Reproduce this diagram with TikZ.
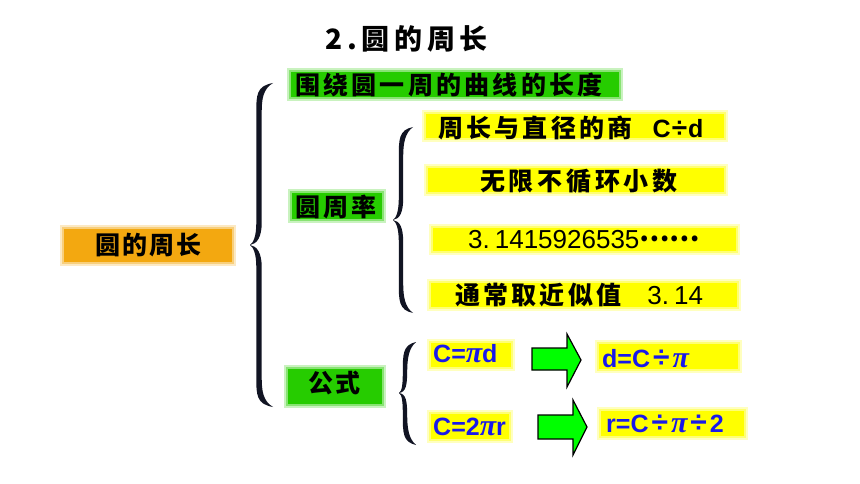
\documentclass[tikz,border=0pt]{standalone}
\usepackage{fontspec}
\setmainfont{Liberation Sans}
\newfontfamily\cjk{Noto Sans CJK SC}[LetterSpace=13]
\newfontfamily\cjkw{Noto Sans CJK SC}[LetterSpace=15]
\newfontfamily\cjko{Noto Sans CJK SC}[LetterSpace=8]
\newfontfamily\cjkt{Noto Sans CJK SC}[LetterSpace=17]
\newfontfamily\cjkn{Noto Sans CJK SC}
\newfontfamily\pifont{Liberation Serif}
\definecolor{gbox}{RGB}{38,204,0}
\definecolor{garrow}{RGB}{0,255,0}
\definecolor{obox}{RGB}{243,168,16}
\definecolor{ybox}{RGB}{255,255,0}
\definecolor{ftblue}{RGB}{25,25,235}
\definecolor{bracecol}{RGB}{17,20,35}
\tikzset{
  glowbox/.style={draw=none, fill=#1, inner sep=0pt,
    preaction={draw=#1!25, line width=8pt, rounded corners=3pt},
    preaction={draw=#1!55, line width=4pt, rounded corners=1pt}},
  txt/.style={anchor=base west, inner sep=0pt},
  blockarrow/.style={fill=garrow, draw=black, line width=1.2pt, line join=miter},
}
\newcommand\pisym{{\fontsize{30pt}{30pt}\selectfont\pifont\bfseries\itshape π}}
\newcommand\dv{\hspace{3pt}{\fontsize{30pt}{30pt}\selectfont ÷}\hspace{3pt}}
\newcommand\curlybr[7]{% xr, yt, xl, ym, yb, xb, h
\fill[bracecol] (#1,#2)
 .. controls ({#6-#7},{#2+3}) and ({#6-#7},{#2+12}) .. ({#6-#7},{#2+30})
 -- ({#6-#7},{#4-22})
 .. controls ({#6-#7},{#4-8}) and ({#3+3},{#4-2}) .. (#3,#4)
 .. controls ({#3+3},{#4+2}) and ({#6-#7},{#4+8}) .. ({#6-#7},{#4+22})
 -- ({#6-#7},{#5-30})
 .. controls ({#6-#7},{#5-12}) and ({#6-#7},{#5-3}) .. (#1,#5)
 .. controls ({#6+4},{#5-6}) and ({#6+#7},{#5-16}) .. ({#6+#7},{#5-30})
 -- ({#6+#7},{#4+22})
 .. controls ({#6+#7},{#4+8}) and ({#3+7},{#4+1}) .. (#3,#4)
 .. controls ({#3+7},{#4-1}) and ({#6+#7},{#4-8}) .. ({#6+#7},{#4-22})
 -- ({#6+#7},{#2+30})
 .. controls ({#6+#7},{#2+16}) and ({#6+4},{#2+6}) .. (#1,#2) -- cycle;}
\begin{document}
\begin{tikzpicture}[x=1pt,y=-1pt]
\fill[white] (0,0) rectangle (860,484);
\useasboundingbox (0,0) rectangle (860,484);

% title
\node[txt] (title) at (325,49.5) {\fontsize{28pt}{28pt}\selectfont\cjkt\bfseries 2.圆的周长};

% boxes
\node[glowbox=obox, minimum width=168pt, minimum height=33pt] (root) at (148,245.5) {};
\node[glowbox=gbox, minimum width=328pt, minimum height=25pt] (def) at (455,84.5) {};
\node[glowbox=gbox, minimum width=90pt, minimum height=26pt] (pi) at (337,206) {};
\node[glowbox=gbox, minimum width=94pt, minimum height=35pt] (fm) at (335,386.5) {};
\node[glowbox=ybox, minimum width=298pt, minimum height=24pt] (y1) at (575,126) {};
\node[glowbox=ybox, minimum width=296pt, minimum height=24pt] (y2) at (576,180) {};
\node[glowbox=ybox, minimum width=303pt, minimum height=23pt] (y3) at (584.5,239.5) {};
\node[glowbox=ybox, minimum width=306pt, minimum height=24pt] (y4) at (584,295) {};
\node[glowbox=ybox, minimum width=80pt, minimum height=24pt] (c1) at (471,355) {};
\node[glowbox=ybox, minimum width=139pt, minimum height=25pt] (d1) at (668.5,356.5) {};
\node[glowbox=ybox, minimum width=78pt, minimum height=25pt] (c2) at (470,426.5) {};
\node[glowbox=ybox, minimum width=143pt, minimum height=25pt] (r1) at (672,423.5) {};

% texts
\node[txt] (troot) at (95,254.5) {\fontsize{25pt}{25pt}\selectfont\cjko\bfseries 圆的周长};
\node[txt] (tdef) at (295,94.5) {\fontsize{25pt}{25pt}\selectfont\cjk\bfseries 围绕圆一周的曲线的长度};
\node[txt] (tpi) at (295,216) {\fontsize{25pt}{25pt}\selectfont\cjk\bfseries 圆周率};
\node[txt] (tfm) at (308,392.5) {\fontsize{25pt}{25pt}\selectfont\cjko\bfseries 公式};
\node[txt] (ty1) at (438,137.5) {\fontsize{25pt}{25pt}\selectfont{\cjk\bfseries 周长与直径的商}\hspace{20pt}{\bfseries C\hspace{1pt}{\fontsize{28pt}{28pt}\selectfont ÷}\hspace{1pt}d}};
\node[txt] (ty2) at (480,190.5) {\fontsize{25pt}{25pt}\selectfont\cjkw\bfseries 无限不循环小数};
\node[txt] (ty3) at (468,248) {\fontsize{26pt}{26pt}\selectfont 3.\hspace{5pt}1415926535\raisebox{7pt}{\fontsize{27pt}{27pt}\selectfont\cjkn\bfseries ……}};
\node[txt] (ty4) at (455,304.5) {\fontsize{25pt}{25pt}\selectfont{\cjk\bfseries 通常取近似值}\hspace{26pt}{\fontsize{26pt}{26pt}\selectfont 3.\hspace{5pt}14}};

\node[txt, text=ftblue] (tc1) at (433,362) {\fontsize{25pt}{25pt}\selectfont\bfseries C=\pisym d};
\node[txt, text=ftblue] (td1) at (602,367) {\fontsize{25pt}{25pt}\selectfont\bfseries d=C\dv\pisym};
\node[txt, text=ftblue] (tc2) at (433,435) {\fontsize{25pt}{25pt}\selectfont\bfseries C=2\pisym r};
\node[txt, text=ftblue] (tr1) at (606,432) {\fontsize{25pt}{25pt}\selectfont\bfseries r=C\dv\pisym\dv 2};

% braces
\curlybr{273}{83}{250}{245}{407}{259}{2.7}
\curlybr{413}{127}{393}{220}{313}{401}{2.2}
\curlybr{416}{342}{399}{393}{445}{405}{2.2}

% arrows
\draw[blockarrow] (532,348) -- (567,348) -- (567,334) -- (581,360) -- (567,387) -- (567,370) -- (532,370) -- cycle;
\draw[blockarrow] (538,415) -- (573,415) -- (573,400) -- (587,427) -- (573,455) -- (573,439) -- (538,439) -- cycle;
\end{tikzpicture}
\end{document}
